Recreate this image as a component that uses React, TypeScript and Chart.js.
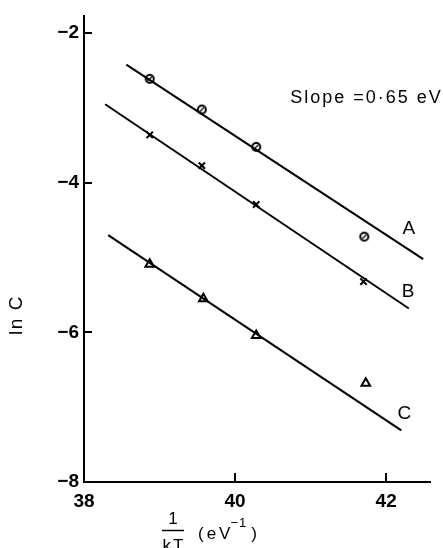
import React, { useEffect, useRef } from "react";
import { Chart, registerables } from "chart.js";

Chart.register(...registerables);

// Measured points (x = 1/kT in eV^-1, y = ln C)
const pointsXA = [38.87, 39.56, 40.28, 41.71];
const seriesA = [-2.61, -3.02, -3.52, -4.72];
const pointsXB = [38.87, 39.56, 40.28, 41.7];
const seriesB = [-3.36, -3.77, -4.29, -5.32];
const pointsXC = [38.87, 39.58, 40.28, 41.73];
const seriesC = [-5.09, -5.55, -6.04, -6.68];

// Fitted lines (endpoints)
const fitXA = [38.56, 42.49];
const fitA = [-2.42, -5.02];
const fitXB = [38.28, 42.3];
const fitB = [-2.95, -5.68];
const fitXC = [38.32, 42.2];
const fitC = [-4.7, -7.31];

// Axis ticks
const xTicks = [38, 40, 42];
const yTicks = [-8, -6, -4, -2];

// Curve labels
const curveNames = ["A", "B", "C"];
const curveLabelX = [42.3, 42.29, 42.24];
const curveLabelY = [-4.61, -5.46, -7.09];

const slopeText = "Slope =0\u00b765 eV";

const FONT = '"Liberation Sans", Arial, Helvetica, sans-serif';

const zip = (xs: number[], ys: number[]) => xs.map((x, i) => ({ x, y: ys[i] }));

function makeSlashedCircle(): HTMLCanvasElement {
  const c = document.createElement("canvas");
  c.width = 12;
  c.height = 12;
  const g = c.getContext("2d")!;
  g.strokeStyle = "#000";
  g.lineWidth = 2;
  g.beginPath();
  g.arc(6, 6, 4, 0, Math.PI * 2);
  g.stroke();
  g.lineWidth = 1.3;
  g.beginPath();
  g.moveTo(4, 8);
  g.lineTo(8, 4);
  g.stroke();
  return c;
}

const decor = {
  id: "decor",
  afterDraw(chart: any) {
    const { ctx, chartArea } = chart;
    const x = chart.scales.x;
    const y = chart.scales.y;
    ctx.save();
    ctx.strokeStyle = "#000";
    ctx.fillStyle = "#000";
    ctx.lineWidth = 2;
    // inward tick marks
    for (const v of yTicks) {
      if (v === -8) continue;
      const py = Math.round(y.getPixelForValue(v));
      ctx.beginPath();
      ctx.moveTo(chartArea.left, py);
      ctx.lineTo(chartArea.left + 8, py);
      ctx.stroke();
    }
    for (const v of xTicks) {
      if (v === 38) continue;
      const px = Math.round(x.getPixelForValue(v));
      ctx.beginPath();
      ctx.moveTo(px, chartArea.bottom);
      ctx.lineTo(px, chartArea.bottom - 9);
      ctx.stroke();
    }
    // curve labels
    ctx.font = `19px ${FONT}`;
    ctx.textAlign = "center";
    ctx.textBaseline = "middle";
    curveNames.forEach((n, i) => {
      ctx.fillText(n, x.getPixelForValue(curveLabelX[i]), y.getPixelForValue(curveLabelY[i]));
    });
    // slope annotation
    ctx.font = `18px ${FONT}`;
    (ctx as any).letterSpacing = "2px";
    ctx.textAlign = "left";
    ctx.fillText(slopeText, x.getPixelForValue(40.73), y.getPixelForValue(-2.86));
    (ctx as any).letterSpacing = "0px";
    // y title
    ctx.save();
    ctx.translate(17, 315);
    ctx.rotate(-Math.PI / 2);
    ctx.font = `19px ${FONT}`;
    (ctx as any).letterSpacing = "1.5px";
    ctx.textAlign = "center";
    ctx.textBaseline = "middle";
    ctx.fillText("ln C", 0, 0);
    ctx.restore();
    // x title: fraction 1/kT (eV^-1)
    ctx.font = `17px ${FONT}`;
    ctx.textAlign = "center";
    ctx.textBaseline = "alphabetic";
    (ctx as any).letterSpacing = "0px";
    ctx.fillText("1", 173, 524);
    ctx.beginPath();
    ctx.lineWidth = 1.5;
    ctx.moveTo(162, 530.5);
    ctx.lineTo(184, 530.5);
    ctx.stroke();
    (ctx as any).letterSpacing = "2px";
    ctx.fillText("kT", 174, 551);
    ctx.textAlign = "left";
    ctx.font = `17px ${FONT}`;
    (ctx as any).letterSpacing = "3px";
    ctx.fillText("(eV", 198, 539);
    const w = ctx.measureText("(eV").width;
    ctx.font = `13px ${FONT}`;
    (ctx as any).letterSpacing = "1px";
    ctx.fillText("\u22121", 198 + w - 3, 527);
    const w2 = ctx.measureText("\u22121").width;
    ctx.font = `17px ${FONT}`;
    ctx.fillText(")", 198 + w + w2 + 1, 539);
    ctx.restore();
  },
};

export default function App() {
  const ref = useRef<HTMLCanvasElement>(null);
  useEffect(() => {
    if (!ref.current) return;
    const lineDs = (xs: number[], ys: number[]) => ({
      type: "line" as const,
      data: zip(xs, ys),
      borderColor: "#000",
      borderWidth: 2,
      pointRadius: 0,
      showLine: true,
      fill: false,
    });
    const chart = new Chart(ref.current, {
      type: "scatter",
      data: {
        datasets: [
          lineDs(fitXA, fitA),
          lineDs(fitXB, fitB),
          lineDs(fitXC, fitC),
          {
            data: zip(pointsXA, seriesA),
            pointStyle: makeSlashedCircle(),
            pointRadius: 5,
            borderColor: "#000",
            backgroundColor: "rgba(255,255,255,0)",
            borderWidth: 2,
          },
          {
            data: zip(pointsXB, seriesB),
            pointStyle: "crossRot",
            pointRadius: 4.5,
            borderColor: "#000",
            borderWidth: 2,
          },
          {
            data: zip(pointsXC, seriesC),
            pointStyle: "triangle",
            pointRadius: 5,
            borderColor: "#000",
            backgroundColor: "#fff",
            borderWidth: 2,
          },
        ] as any,
      },
      options: {
        animation: false,
        responsive: false,
        devicePixelRatio: 1,
        layout: { padding: { left: 0, top: 12, right: 13, bottom: 0 } },
        plugins: { legend: { display: false }, tooltip: { enabled: false } },
        scales: {
          x: {
            type: "linear",
            min: 38,
            max: 42.58,
            afterBuildTicks: (s: any) => {
              s.ticks = xTicks.map((v) => ({ value: v }));
            },
            afterFit: (s: any) => {
              s.height = 66;
            },
            grid: { display: false, drawTicks: false },
            border: { display: true, color: "#000", width: 2 },
            ticks: {
              padding: 8,
              color: "#000",
              font: { family: FONT, size: 19, weight: "bold" },
              maxRotation: 0,
              callback: (v: any) => String(v),
            },
          },
          y: {
            type: "linear",
            min: -8,
            max: -1.775,
            afterBuildTicks: (s: any) => {
              s.ticks = yTicks.map((v) => ({ value: v }));
            },
            afterFit: (s: any) => {
              s.width = 84;
            },
            grid: { display: false, drawTicks: false },
            border: { display: true, color: "#000", width: 2 },
            ticks: {
              padding: 5,
              color: "#000",
              font: { family: FONT, size: 19, weight: "bold" },
              callback: (v: any) => (v < 0 ? "\u2212" + Math.abs(v) : String(v)),
            },
          },
        },
      },
      plugins: [decor],
    } as any);
    return () => chart.destroy();
  }, []);
  return (
    <div style={{ position: "absolute", left: 0, top: 0, width: 443, height: 548, background: "#fff" }}>
      <canvas ref={ref} width={443} height={548} style={{ display: "block" }} />
    </div>
  );
}
